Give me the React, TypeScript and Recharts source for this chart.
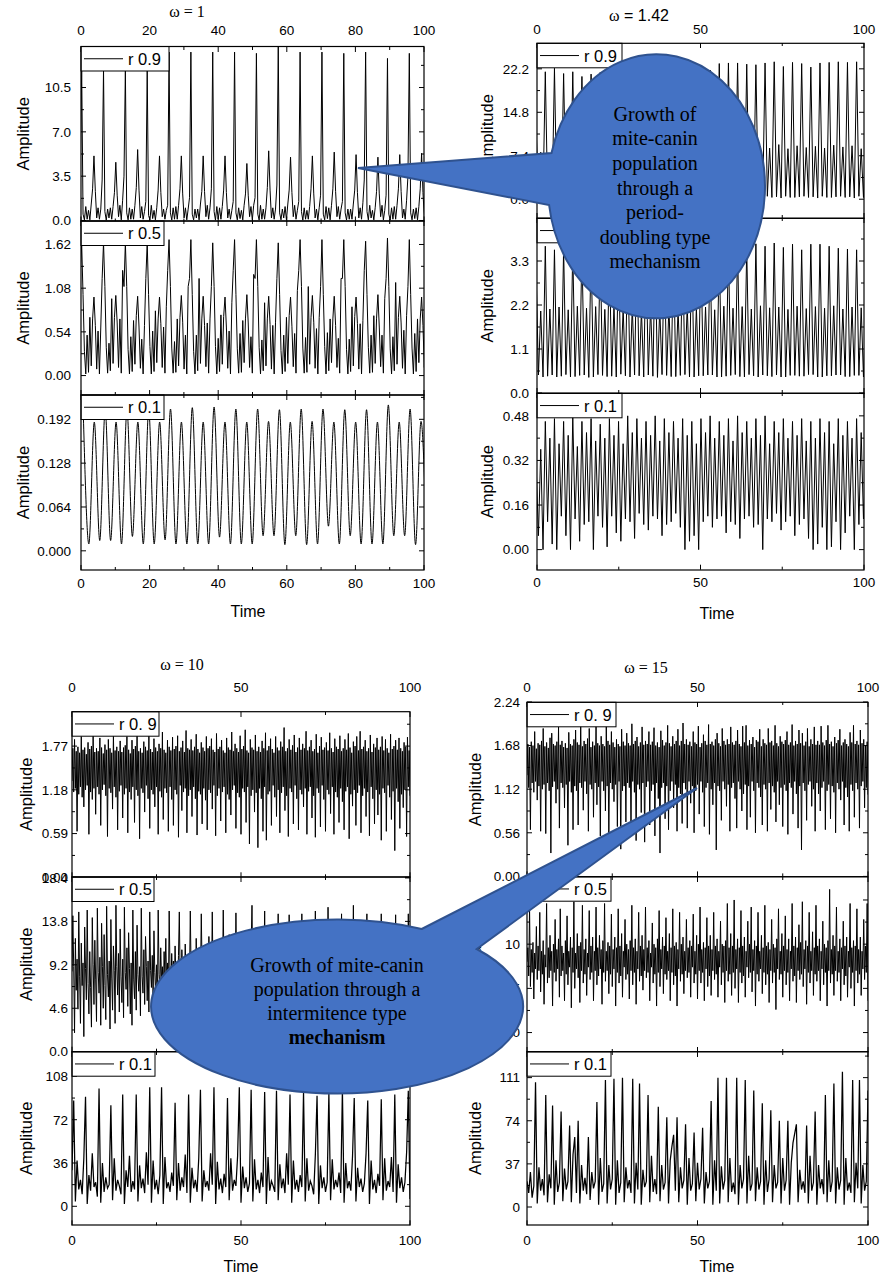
import React from "react";
import { LineChart, Line, XAxis, YAxis } from "recharts";

// ---------- data ----------

// ω = 1, r 0.9 and r 0.5: sampled every 0.398 from t = -0.2 (16 samples per cycle)
const w1Start = -0.2;
const w1Step = 0.398;
const w1r09 = [
  4.0, 11.9, 0.5, 0.05, 1.1, 0.1, 0.8, 0.05, 1.3, 2.5, 5.1, 2.3, 0.2, 1.0, 0.1, 0.9,
  3.2, 11.9, 0.7, 0.03, 0.9, 0.2, 1.0, 0.1, 1.1, 2.2, 4.6, 2.0, 0.3, 1.2, 0.05, 1.6,
  3.5, 11.9, 0.6, 0.05, 1.0, 0.1, 0.9, 0.1, 1.2, 2.6, 5.6, 2.4, 0.2, 1.1, 0.1, 0.7,
  1.5, 11.9, 0.4, 0.05, 1.2, 0.15, 0.8, 0.05, 1.0, 2.4, 5.1, 2.2, 0.3, 0.9, 0.1, 0.8,
  1.2, 13.3, 0.6, 0.04, 1.0, 0.1, 1.1, 0.1, 1.2, 2.5, 5.1, 2.1, 0.2, 1.0, 0.05, 0.9,
  1.8, 13.3, 0.5, 0.05, 0.9, 0.2, 0.9, 0.05, 1.3, 2.3, 5.1, 2.3, 0.3, 1.2, 0.1, 1.0,
  2.5, 13.3, 0.7, 0.03, 1.1, 0.1, 1.0, 0.1, 1.1, 2.4, 5.1, 2.2, 0.2, 0.9, 0.1, 0.8,
  1.5, 13.3, 0.6, 0.05, 1.0, 0.15, 0.8, 0.05, 1.2, 2.1, 4.5, 2.0, 0.3, 1.1, 0.05, 1.2,
  1.8, 13.2, 0.5, 0.04, 1.2, 0.1, 0.9, 0.1, 1.0, 2.6, 5.5, 2.4, 0.2, 1.0, 0.1, 0.9,
  2.8, 13.8, 0.6, 0.05, 0.9, 0.2, 1.1, 0.05, 1.3, 2.4, 5.0, 2.2, 0.3, 1.2, 0.1, 0.8,
  1.5, 13.3, 0.7, 0.03, 1.0, 0.1, 0.8, 0.1, 1.1, 2.5, 5.1, 2.1, 0.2, 0.9, 0.05, 1.0,
  2.0, 13.3, 0.5, 0.05, 1.1, 0.15, 1.0, 0.05, 1.2, 2.5, 5.4, 2.3, 0.3, 1.1, 0.1, 0.9,
  1.5, 13.2, 0.6, 0.04, 0.9, 0.1, 0.9, 0.1, 1.3, 2.4, 5.2, 2.2, 0.2, 1.0, 0.1, 1.4,
  3.2, 13.3, 0.7, 0.05, 1.2, 0.2, 0.8, 0.05, 1.0, 2.3, 5.0, 2.1, 0.3, 1.2, 0.05, 0.8,
  2.0, 12.8, 0.5, 0.03, 1.0, 0.1, 1.1, 0.1, 1.2, 2.5, 5.2, 2.3, 0.2, 0.9, 0.1, 1.6,
  3.5, 13.2, 0.6, 0.05, 0.9, 0.15, 1.0, 0.05, 1.1, 2.5, 5.3, 2.2, 0.3, 1.1, 0.1, 0.9,
];
const w1r05 = [
  1.3, 1.62, 1.0, 0.30, 0.02, 0.50, 0.04, 0.72, 0.12, 0.70, 0.97, 0.62, 0.08, 0.55, 0.02, 0.60,
  1.2, 1.64, 1.1, 0.35, 0.03, 0.40, 0.06, 0.95, 0.15, 0.72, 0.99, 0.65, 0.10, 0.70, 0.03, 1.30,
  1.1, 1.64, 1.1, 0.32, 0.02, 0.48, 0.05, 0.68, 0.14, 0.74, 0.98, 0.60, 0.09, 0.45, 0.02, 0.62,
  1.2, 1.64, 1.0, 0.36, 0.02, 0.55, 0.05, 0.80, 0.16, 0.70, 0.97, 0.64, 0.10, 0.60, 0.03, 0.85,
  1.3, 1.68, 1.1, 0.34, 0.03, 0.42, 0.04, 0.70, 0.12, 0.72, 0.99, 0.66, 0.08, 0.50, 0.02, 1.10,
  1.2, 1.68, 1.0, 0.30, 0.02, 0.50, 0.06, 1.20, 0.15, 0.70, 0.98, 0.62, 0.11, 0.65, 0.03, 0.70,
  1.1, 1.64, 1.1, 0.36, 0.02, 0.46, 0.05, 0.75, 0.14, 0.73, 0.97, 0.60, 0.09, 0.55, 0.02, 0.90,
  1.3, 1.68, 1.0, 0.33, 0.03, 0.52, 0.04, 0.68, 0.16, 0.71, 1.00, 0.65, 0.10, 0.48, 0.03, 1.25,
  1.2, 1.68, 1.1, 0.35, 0.02, 0.44, 0.06, 0.90, 0.12, 0.70, 0.98, 0.63, 0.08, 0.62, 0.02, 0.66,
  1.2, 1.64, 1.0, 0.31, 0.02, 0.50, 0.05, 0.72, 0.15, 0.74, 0.97, 0.61, 0.11, 0.52, 0.03, 1.05,
  1.3, 1.68, 1.1, 0.34, 0.03, 0.47, 0.04, 1.10, 0.14, 0.72, 0.99, 0.66, 0.09, 0.58, 0.02, 0.72,
  1.1, 1.68, 1.0, 0.36, 0.02, 0.53, 0.06, 0.70, 0.16, 0.70, 0.98, 0.62, 0.10, 0.46, 0.03, 1.20,
  1.2, 1.68, 1.1, 0.32, 0.02, 0.45, 0.05, 0.85, 0.12, 0.73, 0.97, 0.64, 0.08, 0.64, 0.02, 0.68,
  1.3, 1.66, 1.0, 0.35, 0.03, 0.50, 0.04, 0.74, 0.15, 0.71, 1.00, 0.60, 0.11, 0.50, 0.03, 0.95,
  1.2, 1.70, 1.1, 0.33, 0.02, 0.48, 0.06, 1.15, 0.14, 0.72, 0.98, 0.65, 0.09, 0.56, 0.02, 0.74,
  1.1, 1.68, 1.0, 0.34, 0.02, 0.52, 0.05, 0.70, 0.16, 0.70, 0.97, 0.62, 0.10, 0.60, 0.03, 0.80,
];
// ω = 1, r 0.1: turning points, one every 1.5875 from t = 0.7
const w1r01Start = 0.7;
const w1r01Step = 1.5875;
const w1r01 = [
  0.195, 0.010, 0.188, 0.015, 0.206, 0.015, 0.188, 0.010, 0.206, 0.021, 0.188, 0.010, 0.206, 0.010, 0.188, 0.016,
  0.207, 0.010, 0.188, 0.010, 0.209, 0.010, 0.188, 0.010, 0.210, 0.020, 0.188, 0.010, 0.207, 0.010, 0.188, 0.010,
  0.207, 0.022, 0.189, 0.022, 0.206, 0.009, 0.188, 0.022, 0.207, 0.009, 0.189, 0.010, 0.207, 0.036, 0.188, 0.010,
  0.206, 0.022, 0.188, 0.010, 0.206, 0.010, 0.188, 0.010, 0.213, 0.022, 0.188, 0.022, 0.207, 0.009, 0.189, 0.012,
];

// ω = 1.42: sampled every 0.7 from t = -0.26 (big spike, trough, small spike, trough)
const w142Start = -0.26;
const w142Step = 0.7;
const w142r09 = [
  12.0, 0.4, 8.0, 0.3, 21.7, 0.5, 7.4, 0.3, 22.3, 0.4, 7.8, 0.2, 21.4, 0.5, 7.3, 0.3,
  21.7, 0.3, 8.1, 0.4, 20.9, 0.5, 7.6, 0.3, 21.3, 0.4, 8.0, 0.2, 21.6, 0.5, 7.7, 0.3,
  21.9, 0.3, 8.2, 0.4, 21.5, 0.5, 7.9, 0.3, 22.0, 0.4, 8.3, 0.2, 21.8, 0.5, 8.0, 0.3,
  22.2, 0.3, 8.4, 0.4, 21.9, 0.5, 8.1, 0.3, 22.4, 0.4, 8.5, 0.2, 22.1, 0.5, 8.2, 0.3,
  22.6, 0.3, 8.6, 0.4, 22.3, 0.5, 8.3, 0.3, 22.8, 0.4, 8.8, 0.2, 22.0, 0.5, 8.4, 0.3,
  23.1, 0.3, 9.0, 0.4, 23.2, 0.5, 8.6, 0.3, 23.2, 0.4, 9.2, 0.2, 23.0, 0.5, 8.5, 0.3,
  22.9, 0.3, 9.0, 0.4, 23.2, 0.5, 8.7, 0.3, 23.4, 0.4, 9.3, 0.2, 22.6, 0.5, 8.6, 0.3,
  23.3, 0.3, 9.1, 0.4, 23.1, 0.5, 8.8, 0.3, 22.5, 0.4, 9.0, 0.2, 23.2, 0.5, 8.7, 0.3,
  23.3, 0.3, 9.2, 0.4, 23.4, 0.5, 8.9, 0.3, 23.3, 0.4, 9.1, 0.2, 23.4, 0.5, 8.6, 0.3,
  10.0,
];
const w142r05 = [
  3.00, 0.45, 2.05, 0.40, 3.67, 0.42, 2.10, 0.45, 3.58, 0.40, 2.15, 0.42, 3.62, 0.46, 2.08, 0.40,
  3.60, 0.41, 2.17, 0.44, 3.64, 0.45, 2.12, 0.39, 3.60, 0.40, 2.16, 0.46, 3.62, 0.44, 2.09, 0.41,
  3.58, 0.42, 2.18, 0.40, 3.64, 0.47, 2.11, 0.43, 3.60, 0.40, 2.15, 0.45, 3.66, 0.43, 2.07, 0.40,
  3.62, 0.45, 2.17, 0.42, 3.64, 0.39, 2.12, 0.46, 3.60, 0.44, 2.16, 0.41, 3.66, 0.41, 2.10, 0.44,
  3.62, 0.46, 2.18, 0.40, 3.68, 0.40, 2.13, 0.43, 3.64, 0.43, 2.15, 0.45, 3.58, 0.45, 2.08, 0.40,
  3.62, 0.40, 2.17, 0.42, 3.66, 0.44, 2.12, 0.46, 3.67, 0.41, 2.16, 0.40, 3.62, 0.46, 2.10, 0.43,
  3.73, 0.40, 2.18, 0.45, 3.67, 0.43, 2.13, 0.41, 3.75, 0.45, 2.15, 0.40, 3.64, 0.40, 2.09, 0.44,
  3.72, 0.44, 2.17, 0.42, 3.58, 0.42, 2.11, 0.46, 3.72, 0.46, 2.16, 0.40, 3.72, 0.40, 2.12, 0.43,
  3.67, 0.43, 2.18, 0.45, 3.62, 0.45, 2.10, 0.41, 3.60, 0.41, 2.15, 0.44, 3.58, 0.44, 2.13, 0.40,
  2.00,
];
const w142r01 = [
  0.30, 0.05, 0.36, 0.00, 0.46, 0.10, 0.40, 0.02, 0.47, 0.00, 0.38, 0.12, 0.46, 0.05, 0.41, 0.00,
  0.48, 0.11, 0.37, 0.03, 0.46, 0.09, 0.42, 0.10, 0.47, 0.00, 0.39, 0.12, 0.45, 0.08, 0.40, 0.01,
  0.47, 0.12, 0.41, 0.06, 0.46, 0.03, 0.38, 0.11, 0.48, 0.10, 0.42, 0.04, 0.47, 0.13, 0.40, 0.09,
  0.46, 0.07, 0.41, 0.12, 0.48, 0.11, 0.39, 0.05, 0.47, 0.09, 0.42, 0.10, 0.46, 0.13, 0.40, 0.08,
  0.47, 0.00, 0.41, 0.03, 0.46, 0.05, 0.38, 0.00, 0.47, 0.10, 0.42, 0.12, 0.48, 0.08, 0.40, 0.11,
  0.46, 0.12, 0.41, 0.06, 0.47, 0.10, 0.39, 0.09, 0.48, 0.04, 0.42, 0.11, 0.46, 0.12, 0.40, 0.08,
  0.47, 0.09, 0.41, 0.00, 0.48, 0.11, 0.38, 0.10, 0.46, 0.13, 0.42, 0.07, 0.47, 0.10, 0.40, 0.12,
  0.46, 0.05, 0.41, 0.09, 0.47, 0.11, 0.39, 0.04, 0.46, 0.00, 0.40, 0.02, 0.47, 0.08, 0.42, 0.00,
  0.46, 0.01, 0.38, 0.10, 0.47, 0.00, 0.41, 0.06, 0.46, 0.12, 0.40, 0.00, 0.47, 0.09, 0.42, 0.11,
  0.30,
];

// ω = 10 and ω = 15, noisy bands: sampled every 0.25 from t = 0
const fineStart = 0;
const fineStep = 0.25;
const w10r09 = [
  1.30, 1.74, 1.15, 1.86, 1.20, 1.70, 0.62, 1.76, 1.12, 1.68, 1.22, 1.90, 1.08, 1.72, 0.95, 1.75, 1.18, 1.66, 1.24, 1.82,
  0.58, 1.73, 1.15, 1.77, 1.05, 1.92, 1.20, 1.69, 0.85, 1.74, 1.22, 1.70, 1.12, 1.88, 0.70, 1.75, 1.18, 1.67, 1.25, 1.79,
  1.10, 1.72, 0.55, 1.86, 1.20, 1.74, 1.14, 1.68, 0.92, 1.93, 1.22, 1.71, 1.08, 1.76, 0.64, 1.70, 1.16, 1.84, 1.24, 1.69,
  0.80, 1.75, 1.12, 1.78, 1.20, 1.90, 0.60, 1.72, 1.15, 1.67, 1.05, 1.85, 1.22, 1.73, 0.74, 1.77, 1.18, 1.95, 1.10, 1.70,
  0.52, 1.74, 1.20, 1.68, 1.14, 1.83, 0.88, 1.76, 1.24, 1.71, 1.06, 1.92, 0.66, 1.73, 1.18, 1.69, 1.12, 1.87, 0.95, 1.75,
  1.22, 1.70, 0.58, 1.80, 1.16, 1.74, 1.08, 1.96, 0.78, 1.72, 1.20, 1.68, 1.14, 1.85, 0.62, 1.76, 1.22, 1.71, 1.05, 1.89,
  0.70, 1.73, 1.18, 1.77, 1.12, 1.91, 0.54, 1.70, 1.24, 1.75, 0.90, 1.84, 1.15, 1.69, 1.20, 1.98, 0.60, 1.74, 1.10, 1.72,
  1.18, 1.86, 0.82, 1.71, 1.22, 1.76, 1.06, 1.93, 0.57, 1.73, 1.16, 1.68, 1.12, 1.82, 0.72, 1.75, 1.20, 1.70, 1.04, 1.90,
  0.64, 1.74, 1.18, 1.77, 1.14, 1.87, 0.92, 1.72, 1.24, 1.69, 0.56, 1.94, 1.10, 1.73, 1.20, 1.76, 0.76, 1.85, 1.15, 1.71,
  1.22, 1.68, 0.60, 1.88, 1.12, 1.75, 1.05, 1.72, 0.84, 1.96, 1.18, 1.70, 1.24, 1.80, 0.66, 1.74, 1.14, 1.69, 1.08, 1.91,
  0.58, 1.73, 1.20, 1.77, 1.15, 1.99, 0.74, 1.71, 1.22, 1.68, 0.45, 1.86, 1.10, 1.75, 1.18, 1.72, 0.88, 1.92, 1.14, 1.70,
  0.40, 1.76, 1.20, 1.69, 1.06, 1.84, 0.62, 1.74, 1.22, 1.95, 0.50, 1.71, 1.12, 1.77, 1.16, 1.87, 0.70, 1.73, 1.24, 1.68,
  1.08, 1.90, 0.82, 1.75, 1.18, 1.71, 0.60, 1.83, 1.14, 1.76, 1.22, 2.02, 0.90, 1.70, 1.10, 1.74, 0.55, 1.86, 1.20, 1.72,
  1.15, 1.78, 0.72, 1.92, 1.24, 1.69, 1.06, 1.75, 0.64, 1.88, 1.18, 1.72, 1.12, 1.80, 0.95, 1.74, 1.20, 1.97, 0.58, 1.71,
  1.16, 1.76, 1.22, 1.85, 0.80, 1.70, 1.10, 1.73, 0.54, 1.93, 1.20, 1.68, 1.14, 1.77, 0.68, 1.89, 1.24, 1.72, 1.05, 1.75,
  0.62, 1.82, 1.18, 1.71, 1.12, 1.95, 0.86, 1.74, 1.22, 1.69, 0.58, 1.87, 1.15, 1.76, 1.08, 1.73, 0.74, 1.91, 1.20, 1.70,
  1.02, 1.74, 0.64, 1.86, 1.16, 1.72, 1.22, 1.94, 0.52, 1.75, 1.12, 1.68, 0.96, 1.83, 1.18, 1.77, 0.70, 1.90, 1.14, 1.71,
  1.24, 1.97, 0.60, 1.73, 1.10, 1.76, 1.20, 1.85, 0.82, 1.70, 1.15, 1.74, 0.56, 1.92, 1.22, 1.69, 1.06, 1.80, 0.72, 1.75,
  1.18, 1.88, 0.84, 1.72, 1.12, 1.76, 0.50, 1.90, 1.20, 1.71, 1.14, 1.86, 0.62, 1.74, 1.24, 1.68, 1.08, 1.93, 0.78, 1.73,
  1.16, 1.77, 0.36, 1.85, 1.20, 1.72, 1.02, 1.88, 0.66, 1.74, 1.12, 1.70, 0.94, 1.82, 1.18, 1.76, 0.55, 1.89, 1.22, 1.71,
  1.10,
];
const w10r05 = [
  8.5, 14.4, 9.0, 2.0, 12.0, 6.5, 9.8, 4.5, 14.8, 8.0, 3.0, 11.5, 7.0, 9.4, 1.6, 13.2, 8.8, 5.5, 15.0, 7.2,
  4.0, 10.6, 6.8, 2.6, 14.2, 9.2, 5.0, 11.8, 7.6, 3.2, 15.2, 8.4, 6.2, 10.0, 2.8, 13.6, 9.0, 4.6, 12.4, 7.0,
  3.4, 15.4, 8.2, 5.8, 9.6, 2.4, 14.0, 7.8, 4.4, 11.2, 8.6, 3.0, 15.5, 9.0, 6.0, 10.4, 4.2, 13.0, 8.0, 5.2,
  9.8, 3.6, 15.3, 8.4, 6.6, 11.0, 4.8, 12.6, 8.8, 4.0, 9.4, 2.8, 15.0, 7.6, 5.6, 10.6, 4.4, 13.4, 8.2, 6.4,
  9.0, 3.8, 15.2, 8.0, 6.2, 10.8, 5.0, 12.2, 9.0, 5.4, 9.6, 4.2, 14.8, 8.6, 6.8, 10.2, 5.6, 12.8, 8.4, 6.0,
  9.2, 4.8, 15.0, 8.2, 6.6, 11.0, 7.4, 9.0, 5.8, 10.6, 8.0, 12.0, 7.0, 9.4, 5.2, 14.9, 8.6, 6.8, 10.4, 7.6,
  9.6, 6.0, 11.2, 7.4, 8.8, 6.2, 10.2, 14.8, 7.8, 6.6, 10.8, 8.4, 9.2, 6.4, 11.4, 7.8, 8.6, 6.0, 10.0, 7.2,
  14.9, 8.2, 6.8, 10.6, 7.6, 9.4, 6.2, 12.0, 8.0, 9.0, 6.6, 10.2, 7.4, 14.6, 8.6, 6.4, 11.0, 7.8, 9.2, 6.8,
  10.4, 7.2, 12.2, 8.2, 9.0, 6.6, 14.8, 7.6, 6.8, 10.8, 8.0, 9.4, 6.2, 11.6, 7.6, 8.8, 6.6, 10.0, 7.4, 15.0,
  8.4, 6.8, 11.0, 7.8, 9.2, 6.4, 12.4, 8.2, 8.8, 6.6, 10.4, 7.2, 9.6, 6.8, 14.7, 8.0, 6.6, 10.6, 7.8, 9.0,
  6.4, 11.8, 8.0, 9.4, 6.8, 10.2, 7.4, 12.6, 8.4, 9.0, 7.2, 6.6, 11.2, 15.5, 8.0, 6.8, 10.4, 7.6, 12.2, 8.6,
  9.0, 6.6, 10.8, 7.4, 8.8, 6.2, 11.0, 8.2, 14.9, 6.8, 10.6, 7.8, 9.4, 6.6, 12.0, 8.4, 9.0, 6.8, 10.2, 7.6,
  6.4, 11.4, 7.8, 9.6, 14.6, 7.4, 6.6, 10.8, 8.2, 9.2, 6.8, 12.4, 8.0, 9.0, 6.4, 10.4, 7.6, 14.5, 8.2, 6.8,
  11.0, 7.8, 9.4, 6.6, 12.2, 8.4, 9.0, 6.8, 10.6, 7.4, 8.8, 6.2, 14.6, 7.8, 6.6, 11.2, 8.0, 9.6, 6.8, 10.2,
  7.6, 12.6, 8.6, 9.2, 6.4, 10.8, 7.4, 8.8, 14.9, 7.6, 6.8, 10.6, 8.2, 9.4, 6.6, 12.0, 8.0, 9.0, 6.4, 10.4,
  7.8, 8.8, 6.6, 15.3, 7.8, 6.4, 11.2, 8.4, 9.6, 6.8, 12.6, 8.0, 9.2, 6.6, 10.2, 7.4, 8.8, 6.4, 11.0, 14.6,
  7.6, 6.8, 10.8, 8.2, 9.4, 6.6, 12.0, 8.6, 9.0, 6.8, 10.4, 7.6, 8.8, 15.5, 7.0, 6.6, 11.4, 8.2, 9.6, 6.8,
  12.4, 8.0, 9.2, 6.4, 10.6, 7.4, 8.8, 6.6, 11.0, 14.6, 7.4, 6.8, 10.6, 8.4, 9.4, 6.6, 12.2, 8.2, 9.0, 6.8,
  10.2, 7.6, 8.8, 6.4, 11.2, 7.8, 14.6, 7.8, 6.6, 10.8, 8.0, 9.6, 6.8, 12.6, 8.4, 9.2, 6.6, 10.4, 7.4, 8.8,
  6.4, 11.0, 7.8, 14.5, 7.6, 6.8, 10.8, 8.2, 9.4, 6.6, 12.0, 8.4, 9.0, 6.8, 10.6, 7.4, 8.8, 6.6, 14.6, 8.0,
  9.0,
];
const w15r09 = [
  1.30, 1.70, 1.14, 1.66, 0.60, 1.73, 1.20, 1.68, 1.08, 1.86, 1.22, 1.64, 0.98, 1.71, 1.16, 1.69, 0.58, 1.74, 1.12, 1.90,
  1.18, 1.67, 0.55, 1.72, 1.20, 1.65, 1.10, 1.78, 0.30, 1.84, 1.15, 1.70, 1.22, 1.68, 0.94, 1.73, 1.12, 1.92, 0.62, 1.69,
  1.20, 1.74, 1.14, 1.66, 0.88, 1.71, 1.18, 1.65, 0.40, 1.85, 1.22, 1.70, 1.08, 1.68, 0.60, 1.76, 1.16, 1.88, 1.10, 1.72,
  0.66, 1.69, 1.20, 1.94, 1.14, 1.67, 0.85, 1.74, 1.22, 1.70, 1.06, 1.77, 0.58, 1.90, 1.18, 1.66, 1.12, 1.73, 0.76, 1.68,
  1.20, 1.95, 0.92, 1.71, 1.15, 1.68, 0.52, 1.80, 1.22, 1.70, 1.10, 1.67, 0.84, 1.93, 1.16, 1.74, 0.48, 1.69, 1.20, 1.86,
  1.12, 1.72, 0.96, 1.66, 1.18, 1.76, 0.64, 1.70, 1.22, 1.67, 0.35, 1.89, 1.10, 1.73, 1.16, 1.68, 0.70, 1.84, 1.20, 1.71,
  1.14, 1.68, 0.56, 1.96, 1.22, 1.70, 1.08, 1.74, 0.46, 1.79, 1.18, 1.67, 1.12, 1.72, 0.82, 1.92, 1.20, 1.69, 0.44, 1.74,
  1.15, 1.70, 1.22, 1.86, 0.66, 1.69, 1.10, 1.73, 1.18, 1.91, 0.52, 1.68, 1.20, 1.72, 1.00, 1.66, 0.30, 1.87, 1.14, 1.75,
  1.20, 1.68, 0.74, 1.72, 1.16, 1.94, 0.60, 1.71, 1.10, 1.67, 1.22, 1.80, 0.88, 1.70, 1.18, 1.74, 0.58, 1.89, 1.14, 1.68,
  1.06, 1.74, 0.68, 1.97, 1.20, 1.70, 1.12, 1.76, 0.62, 1.69, 1.22, 1.73, 0.94, 1.67, 1.16, 1.86, 0.56, 1.72, 1.10, 1.70,
  1.18, 1.93, 0.80, 1.66, 1.22, 1.71, 1.08, 1.82, 0.64, 1.74, 1.14, 1.69, 1.20, 1.95, 0.54, 1.70, 1.12, 1.73, 0.92, 1.68,
  1.20, 1.76, 0.34, 1.84, 1.16, 1.71, 1.10, 1.67, 0.72, 1.90, 1.22, 1.74, 1.12, 1.69, 0.90, 1.76, 1.18, 1.70, 0.58, 1.92,
  1.14, 1.72, 1.20, 1.69, 1.00, 1.74, 0.62, 1.88, 1.22, 1.70, 1.12, 1.67, 0.84, 1.93, 1.06, 1.72, 1.18, 1.94, 0.60, 1.68,
  1.16, 1.75, 0.76, 1.70, 1.22, 1.79, 1.10, 1.66, 0.56, 1.75, 1.20, 1.73, 1.14, 1.89, 1.02, 1.67, 0.66, 1.76, 1.18, 1.71,
  1.12, 1.69, 0.58, 1.90, 1.20, 1.72, 0.86, 1.74, 1.16, 1.68, 1.08, 1.94, 0.70, 1.71, 1.22, 1.67, 0.92, 1.80, 1.14, 1.73,
  0.64, 1.70, 1.18, 1.75, 1.10, 1.86, 0.54, 1.69, 1.20, 1.72, 1.14, 1.95, 0.80, 1.68, 1.22, 1.74, 1.06, 1.70, 0.62, 1.88,
  1.16, 1.71, 0.34, 1.84, 1.20, 1.68, 1.10, 1.73, 0.72, 1.90, 1.18, 1.67, 1.22, 1.76, 0.90, 1.70, 1.12, 1.92, 0.58, 1.69,
  1.20, 1.74, 1.06, 1.69, 0.84, 1.93, 1.14, 1.72, 1.22, 1.68, 0.60, 1.75, 1.10, 1.94, 1.18, 1.70, 0.74, 1.73, 1.16, 1.67,
  1.08, 1.79, 0.56, 1.71, 1.20, 1.75, 1.12, 1.89, 0.98, 1.68, 1.22, 1.72, 0.66, 1.76, 1.14, 1.70, 1.02, 1.67, 0.58, 1.85,
  1.18, 1.72, 1.10, 1.94, 0.76, 1.70, 1.20, 1.74, 1.12, 1.69, 0.62, 1.88, 1.16, 1.71, 1.22, 1.76, 0.88, 1.68, 1.14, 1.73,
  1.05,
];
const w15r05 = [
  8.0, 9.6, 6.4, 14.2, 5.2, 9.4, 6.8, 10.2, 3.8, 9.0, 7.2, 12.0, 6.0, 9.8, 7.0, 13.6, 4.6, 9.2, 6.6, 10.4,
  3.2, 8.8, 7.4, 14.6, 5.6, 9.6, 6.2, 11.0, 7.0, 9.2, 3.0, 10.0, 6.8, 12.8, 5.8, 9.4, 7.2, 10.6, 4.0, 14.0,
  6.4, 9.8, 7.0, 9.0, 3.6, 10.4, 6.6, 13.2, 5.4, 9.2, 7.4, 10.8, 2.8, 9.6, 6.8, 14.8, 5.0, 9.0, 7.2, 11.2,
  6.2, 9.8, 3.4, 10.2, 7.0, 14.4, 5.6, 9.4, 6.6, 10.6, 4.2, 9.0, 7.4, 13.8, 6.0, 9.8, 6.8, 10.8, 3.6, 9.2,
  7.0, 14.2, 5.4, 9.6, 6.4, 11.0, 7.2, 9.4, 3.2, 10.4, 6.8, 14.6, 5.8, 9.2, 7.0, 10.2, 4.4, 9.8, 6.6, 13.4,
  5.2, 9.4, 7.2, 10.8, 3.0, 9.6, 6.8, 14.0, 5.6, 9.8, 6.4, 11.2, 4.0, 9.2, 7.4, 12.8, 6.0, 10.0, 6.6, 9.4,
  3.8, 10.4, 7.0, 14.4, 5.4, 9.6, 6.8, 10.6, 3.2, 9.2, 7.2, 13.6, 5.8, 9.8, 6.4, 11.0, 4.8, 9.4, 7.0, 14.2,
  6.2, 9.6, 6.8, 10.4, 3.6, 9.0, 7.4, 12.4, 5.6, 10.0, 6.6, 9.6, 3.0, 10.6, 6.8, 13.8, 5.2, 9.4, 7.2, 10.8,
  4.4, 9.8, 6.6, 13.0, 6.0, 9.2, 7.0, 11.2, 3.6, 9.6, 6.8, 14.0, 5.4, 9.8, 6.4, 10.2, 3.0, 9.4, 7.2, 13.6,
  5.8, 10.0, 6.6, 10.8, 4.4, 9.2, 7.0, 12.8, 6.2, 9.6, 6.8, 10.4, 4.0, 9.8, 7.4, 13.4, 5.6, 9.2, 6.6, 11.0,
  3.8, 10.0, 7.0, 14.2, 5.6, 9.4, 6.8, 10.2, 3.6, 9.6, 7.2, 13.0, 5.2, 9.8, 6.4, 11.0, 4.2, 9.4, 7.0, 13.6,
  6.0, 9.8, 6.6, 10.6, 4.0, 9.2, 7.4, 12.6, 5.4, 10.0, 6.8, 9.8, 3.4, 10.4, 7.0, 14.6, 5.8, 9.6, 6.6, 11.2,
  4.2, 9.8, 6.8, 15.0, 5.0, 9.4, 7.2, 10.6, 3.4, 9.6, 6.8, 13.8, 5.6, 9.8, 6.4, 10.8, 4.0, 9.2, 7.4, 12.6,
  6.2, 10.0, 6.8, 14.2, 4.6, 9.4, 7.0, 10.4, 3.0, 9.8, 6.6, 13.6, 5.8, 9.2, 7.2, 11.0, 4.4, 9.6, 6.8, 14.4,
  5.4, 9.8, 6.6, 10.2, 3.4, 9.4, 7.0, 12.8, 5.6, 10.0, 6.8, 9.6, 2.6, 10.6, 7.2, 14.0, 6.0, 9.2, 6.6, 11.2,
  4.0, 9.8, 7.0, 13.2, 5.4, 9.4, 6.8, 10.6, 3.6, 9.2, 7.2, 14.6, 5.8, 9.8, 6.4, 10.8, 3.4, 9.6, 7.0, 12.2,
  6.0, 10.2, 6.6, 14.8, 5.2, 9.4, 7.2, 10.4, 3.2, 9.8, 6.8, 13.6, 5.6, 9.2, 7.0, 11.4, 4.2, 9.6, 6.6, 14.4,
  5.8, 9.8, 7.0, 10.6, 3.6, 9.2, 7.2, 12.6, 5.4, 10.0, 6.8, 9.6, 3.0, 10.4, 7.0, 16.2, 5.6, 9.4, 6.6, 11.0,
  4.2, 9.8, 7.0, 14.2, 5.8, 9.2, 6.8, 10.6, 3.6, 9.6, 7.2, 12.6, 5.4, 9.8, 6.4, 10.8, 4.0, 9.2, 7.4, 14.6,
  5.0, 9.6, 6.8, 10.4, 3.0, 9.8, 7.0, 14.0, 5.6, 9.4, 6.6, 10.8, 4.2, 9.2, 7.2, 12.8, 6.0, 9.8, 6.8, 14.6,
  3.6,
];

// ω = 10 and ω = 15, r 0.1 spikes: sampled every 0.5 from t = 0
const spikeStart = 0;
const spikeStep = 0.5;
const w10r01 = [
  30, 88, 4, 38, 14, 22, 10, 40, 91, 2,
  26, 13, 44, 16, 20, 8, 98, 3, 36, 12,
  24, 15, 18, 84, 5, 40, 13, 22, 17, 10,
  93, 2, 30, 16, 42, 12, 21, 14, 93, 4,
  34, 15, 23, 11, 45, 18, 99, 3, 38, 14,
  22, 10, 26, 99, 2, 41, 15, 20, 12, 28,
  17, 86, 5, 36, 13, 24, 16, 43, 11, 93,
  3, 32, 15, 22, 12, 40, 97, 4, 30, 16,
  21, 13, 44, 18, 99, 2, 37, 14, 23, 11,
  27, 16, 90, 5, 40, 13, 22, 17, 42, 99,
  3, 33, 15, 24, 12, 19, 97, 4, 39, 14,
  22, 11, 28, 16, 95, 2, 41, 13, 21, 17,
  12, 96, 5, 35, 15, 23, 11, 44, 18, 93,
  3, 38, 14, 22, 12, 26, 16, 95, 4, 40,
  13, 21, 17, 10, 43, 92, 2, 34, 15, 24,
  12, 20, 94, 5, 39, 14, 22, 16, 28, 11,
  97, 3, 36, 15, 21, 13, 42, 90, 4, 32,
  16, 23, 12, 19, 44, 88, 2, 38, 14, 22,
  11, 27, 17, 89, 5, 40, 13, 21, 16, 41,
  12, 93, 3, 35, 15, 24, 12, 20, 45, 96,
  6,
];
const w15r01 = [
  22, 12, 30, 8, 18, 107, 3, 34, 14, 24,
  10, 96, 4, 28, 16, 87, 2, 40, 13, 21,
  82, 5, 33, 15, 22, 70, 4, 45, 60, 12,
  74, 3, 36, 14, 25, 11, 60, 6, 30, 16,
  22, 90, 2, 42, 13, 20, 109, 3, 36, 15,
  24, 110, 2, 40, 12, 21, 111, 4, 34, 16,
  23, 12, 110, 3, 38, 15, 106, 2, 32, 17,
  22, 96, 4, 44, 13, 24, 11, 86, 5, 36,
  15, 21, 77, 3, 40, 52, 62, 14, 77, 4,
  34, 16, 23, 71, 2, 42, 14, 20, 64, 5,
  38, 15, 24, 68, 3, 30, 16, 22, 91, 2,
  40, 14, 111, 3, 35, 15, 23, 111, 4, 42,
  13, 21, 11, 111, 2, 36, 16, 24, 109, 3,
  44, 14, 20, 100, 5, 34, 15, 22, 89, 2,
  40, 13, 24, 83, 4, 36, 16, 21, 74, 3,
  42, 14, 23, 74, 2, 38, 55, 63, 71, 4,
  32, 15, 22, 12, 70, 3, 44, 14, 21, 82,
  2, 36, 16, 24, 11, 96, 4, 40, 13, 22,
  106, 3, 34, 15, 23, 116, 2, 42, 14, 21,
  12, 109, 4, 38, 16, 109, 3, 36, 14, 22,
  100,
];

// tick values
const timeTicksFine = [0, 20, 40, 60, 80, 100];
const timeMinorFine = [10, 30, 50, 70, 90];
const timeTicks = [0, 50, 100];
const timeMinor = [25, 75];

// ---------- layout ----------

const PAD = 60;
const YW = 50;
const XH = 30;
const SANS = '"Liberation Sans", Arial, Helvetica, sans-serif';
const SERIF = '"Liberation Serif", "Times New Roman", Times, serif';

type Sub = {
  values: number[];
  start: number;
  step: number;
  domain: [number, number];
  major: number[];
  minor: number[];
  digits: number;
  top: number;
  bottom: number;
  legend: string;
  legendW: number;
  legendHidden?: boolean;
  curve?: "linear" | "monotone";
  lineW?: number;
};

type Panel = {
  left: number;
  right: number;
  xMajor: number[];
  xMinor: number[];
  topGap: number;
  bottomGap: number;
  labelGap: number;
  ampX: number;
  timeX: number;
  timeY: number;
  subs: Sub[];
};

const panels: Panel[] = [
  {
    left: 81, right: 424, xMajor: timeTicksFine, xMinor: timeMinorFine,
    topGap: 12.5, bottomGap: 18, labelGap: 10, ampX: 23, timeX: 248, timeY: 617,
    subs: [
      { values: w1r09, start: w1Start, step: w1Step, domain: [-0.08, 13.7], major: [0, 3.5, 7, 10.5], minor: [1.75, 5.25, 8.75, 12.25], digits: 1, top: 46.5, bottom: 221, legend: "r 0.9", legendW: 88 },
      { values: w1r05, start: w1Start, step: w1Step, domain: [-0.24, 1.91], major: [0, 0.54, 1.08, 1.62], minor: [0.27, 0.81, 1.35], digits: 2, top: 221, bottom: 395, legend: "r 0.5", legendW: 83 },
      { values: w1r01, start: w1r01Start, step: w1r01Step, domain: [-0.028, 0.2275], major: [0, 0.064, 0.128, 0.192], minor: [0.032, 0.096, 0.16, 0.224], digits: 3, top: 395, bottom: 570, legend: "r 0.1", legendW: 83, curve: "monotone" },
    ],
  },
  {
    left: 537, right: 864, xMajor: timeTicks, xMinor: timeMinor,
    topGap: 9, bottomGap: 17.7, labelGap: 8, ampX: 487, timeX: 717, timeY: 619,
    subs: [
      { values: w142r09, start: w142Start, step: w142Step, domain: [-3.2, 26.6], major: [0, 7.4, 14.8, 22.2], minor: [3.7, 11.1, 18.5, 25.9], digits: 1, top: 43.3, bottom: 218.3, legend: "r 0.9", legendW: 85 },
      { values: w142r05, start: w142Start, step: w142Step, domain: [0, 4.375], major: [0, 1.1, 2.2, 3.3], minor: [0.55, 1.65, 2.75, 3.85], digits: 1, top: 218.3, bottom: 393.3, legend: "r 0.5", legendW: 85, legendHidden: true },
      { values: w142r01, start: w142Start, step: w142Step, domain: [-0.072, 0.562], major: [0, 0.16, 0.32, 0.48], minor: [0.08, 0.24, 0.4, 0.56], digits: 2, top: 393.3, bottom: 570, legend: "r 0.1", legendW: 85 },
    ],
  },
  {
    left: 72, right: 410, xMajor: timeTicks, xMinor: timeMinor,
    topGap: 19.7, bottomGap: 20, labelGap: 4, ampX: 26, timeX: 241, timeY: 1271.5,
    subs: [
      { values: w10r09, start: fineStart, step: fineStep, domain: [0, 2.23], major: [0, 0.59, 1.18, 1.77], minor: [0.295, 0.885, 1.475, 2.065], digits: 2, top: 711.7, bottom: 877, legend: "r 0. 9", legendW: 87 },
      { values: w10r05, start: fineStart, step: fineStep, domain: [0, 18.5], major: [0, 4.6, 9.2, 13.8, 18.4], minor: [2.3, 6.9, 11.5, 16.1], digits: 1, top: 877, bottom: 1051.7, legend: "r 0.5", legendW: 82 },
      { values: w10r01, start: spikeStart, step: spikeStep, domain: [-15.8, 128.3], major: [0, 36, 72, 108], minor: [18, 54, 90, 126], digits: 0, top: 1051.7, bottom: 1225, legend: "r 0.1", legendW: 83, lineW: 1.25 },
    ],
  },
  {
    left: 527, right: 868, xMajor: timeTicks, xMinor: timeMinor,
    topGap: 9.6, bottomGap: 20, labelGap: 7, ampX: 475, timeX: 717, timeY: 1271.5,
    subs: [
      { values: w15r09, start: fineStart, step: fineStep, domain: [0, 2.24], major: [0, 0.56, 1.12, 1.68, 2.24], minor: [0.28, 0.84, 1.4, 1.96], digits: 2, top: 702.3, bottom: 876.7, legend: "r 0. 9", legendW: 89 },
      { values: w15r05, start: fineStart, step: fineStep, domain: [-2.2, 17.6], major: [0, 5, 10, 15], minor: [2.5, 7.5, 12.5], digits: 0, top: 876.7, bottom: 1051.7, legend: "r 0.5", legendW: 84 },
      { values: w15r01, start: spikeStart, step: spikeStep, domain: [-15.7, 133], major: [0, 37, 74, 111], minor: [18.5, 55.5, 92.5, 129.5], digits: 0, top: 1051.7, bottom: 1225, legend: "r 0.1", legendW: 84, lineW: 1.25 },
    ],
  },
];

function SubPlot({ panel, sub, first, last }: { panel: Panel; sub: Sub; first: boolean; last: boolean }) {
  const w = panel.right - panel.left;
  const h = sub.bottom - sub.top;
  const data = sub.values.map((v, i) => ({ t: sub.start + i * sub.step, v }));
  const top = PAD;
  const bottom = PAD + h;
  const left = PAD;
  const right = PAD + w;

  const renderX = (p: any) => {
    const v = p.payload.value;
    const x = p.payload.coordinate ?? p.x;
    const major = panel.xMajor.includes(v);
    const len = major ? 5 : 3;
    return (
      <g>
        <line x1={x} x2={x} y1={bottom} y2={bottom - len} stroke="#000" strokeWidth={1} />
        <line x1={x} x2={x} y1={top} y2={top + len} stroke="#000" strokeWidth={1} />
        {major && first && (
          <text x={x} y={top - panel.topGap} textAnchor="middle" fontFamily={SANS} fontSize={13.5} fill="#000">{v}</text>
        )}
        {major && last && (
          <text x={x} y={bottom + panel.bottomGap} textAnchor="middle" fontFamily={SANS} fontSize={13.5} fill="#000">{v}</text>
        )}
      </g>
    );
  };

  const renderY = (p: any) => {
    const v = p.payload.value;
    const y = p.payload.coordinate ?? p.y;
    const major = sub.major.includes(v);
    const len = major ? 5 : 3;
    return (
      <g>
        <line x1={left} x2={left + len} y1={y} y2={y} stroke="#000" strokeWidth={1} />
        <line x1={right} x2={right - len} y1={y} y2={y} stroke="#000" strokeWidth={1} />
        {major && (
          <text x={left - panel.labelGap} y={y + 4.8} textAnchor="end" fontFamily={SANS} fontSize={13.5} fill="#000">
            {v.toFixed(sub.digits)}
          </text>
        )}
      </g>
    );
  };

  return (
    <div style={{ position: "absolute", left: panel.left - PAD, top: sub.top - PAD }}>
      <LineChart
        width={w + 2 * PAD}
        height={h + 2 * PAD}
        data={data}
        margin={{ top: PAD, right: PAD, bottom: PAD - XH, left: PAD - YW }}
      >
        <XAxis
          type="number"
          dataKey="t"
          domain={[0, 100]}
          allowDataOverflow
          ticks={[...panel.xMajor, ...panel.xMinor]}
          interval={0}
          height={XH}
          axisLine={false}
          tickLine={false}
          tick={renderX}
        />
        <YAxis
          type="number"
          domain={sub.domain}
          allowDataOverflow
          ticks={[...sub.major, ...sub.minor]}
          interval={0}
          width={YW}
          axisLine={false}
          tickLine={false}
          tick={renderY}
        />
        <Line
          type={sub.curve ?? "linear"}
          dataKey="v"
          stroke="#000"
          strokeWidth={sub.lineW ?? 1}
          dot={false}
          activeDot={false}
          isAnimationActive={false}
        />
      </LineChart>
    </div>
  );
}

const BUBBLE_FILL = "#4472C4";
const BUBBLE_EDGE = "#2F528F";

export default function App() {
  return (
    <div style={{ position: "absolute", left: 0, top: 0, width: 885, height: 1276, background: "#fff" }}>
      {panels.map((panel, pi) =>
        panel.subs.map((sub, si) => (
          <SubPlot key={`${pi}-${si}`} panel={panel} sub={sub} first={si === 0} last={si === panel.subs.length - 1} />
        ))
      )}

      <svg width={885} height={1276} style={{ position: "absolute", left: 0, top: 0, pointerEvents: "none" }}>
        {/* legend boxes */}
        {panels.map((panel, pi) =>
          panel.subs.map((sub, si) => {
            const x = panel.left;
            const y = sub.top;
            const hh = 24.5;
            return (
              <g key={`lg-${pi}-${si}`}>
                <rect x={x} y={y} width={sub.legendW} height={hh} fill="#fff" stroke="#000" strokeWidth={1} />
                <line x1={x + 3} x2={x + 42} y1={y + hh / 2} y2={y + hh / 2} stroke="#000" strokeWidth={1} />
                {!sub.legendHidden && (
                  <text x={x + 47} y={y + hh / 2 + 6} fontFamily={SANS} fontSize={16.5} fill="#000">{sub.legend}</text>
                )}
              </g>
            );
          })
        )}

        {/* frames */}
        {panels.map((panel, pi) =>
          panel.subs.map((sub, si) => (
            <rect
              key={`fr-${pi}-${si}`}
              x={panel.left}
              y={sub.top}
              width={panel.right - panel.left}
              height={sub.bottom - sub.top}
              fill="none"
              stroke="#000"
              strokeWidth={1.2}
            />
          ))
        )}

        {/* axis titles */}
        {panels.map((panel, pi) =>
          panel.subs.map((sub, si) => {
            const cy = (sub.top + sub.bottom) / 2;
            return (
              <text
                key={`am-${pi}-${si}`}
                x={panel.ampX}
                y={cy}
                transform={`rotate(-90 ${panel.ampX} ${cy})`}
                textAnchor="middle"
                dominantBaseline="central"
                fontFamily={SANS}
                fontSize={16.5}
                fill="#000"
              >
                Amplitude
              </text>
            );
          })
        )}
        {panels.map((panel, pi) => (
          <text key={`tm-${pi}`} x={panel.timeX} y={panel.timeY} textAnchor="middle" fontFamily={SANS} fontSize={16} fill="#000">
            Time
          </text>
        ))}

        {/* panel titles */}
        <text x={187} y={17} textAnchor="middle" fontFamily={SERIF} fontSize={16} fill="#000">ω = 1</text>
        <text x={639} y={20.5} textAnchor="middle" fontSize={16} fill="#000">
          <tspan fontFamily={SERIF}>ω</tspan>
          <tspan fontFamily={SANS}>{"  = 1.42"}</tspan>
        </text>
        <text x={182} y={670} textAnchor="middle" fontFamily={SERIF} fontSize={16} fill="#000">ω = 10</text>
        <text x={646} y={673} textAnchor="middle" fontFamily={SERIF} fontSize={16} fill="#000">ω = 15</text>

        {/* callout 1 */}
        <path
          d="M 358 168 L 551.5 153 A 108.5 132 0 1 1 549.1 205 Z"
          fill={BUBBLE_FILL}
          stroke={BUBBLE_EDGE}
          strokeWidth={2}
          strokeLinejoin="miter"
        />
        <text textAnchor="middle" fontFamily={SERIF} fontSize={20} fill="#000">
          <tspan x={655} y={120.7}>Growth of</tspan>
          <tspan x={655} y={145.3}>mite-canin</tspan>
          <tspan x={655} y={169.9}>population</tspan>
          <tspan x={655} y={194.5}>through a</tspan>
          <tspan x={655} y={219.1}>period-</tspan>
          <tspan x={655} y={243.7}>doubling type</tspan>
          <tspan x={655} y={268.3}>mechanism</tspan>
        </text>

        {/* callout 2 */}
        <path
          d="M 421.7 929 L 697 788 L 476.7 949 A 186 87 0 1 1 421.7 929 Z"
          fill={BUBBLE_FILL}
          stroke={BUBBLE_EDGE}
          strokeWidth={2}
          strokeLinejoin="miter"
        />
        <text textAnchor="middle" fontFamily={SERIF} fontSize={20} fill="#000">
          <tspan x={337} y={972}>Growth of mite-canin</tspan>
          <tspan x={337} y={996}>population through a</tspan>
          <tspan x={337} y={1020}>intermitence type</tspan>
          <tspan x={337} y={1044} fontWeight="bold">mechanism</tspan>
        </text>
      </svg>
    </div>
  );
}
